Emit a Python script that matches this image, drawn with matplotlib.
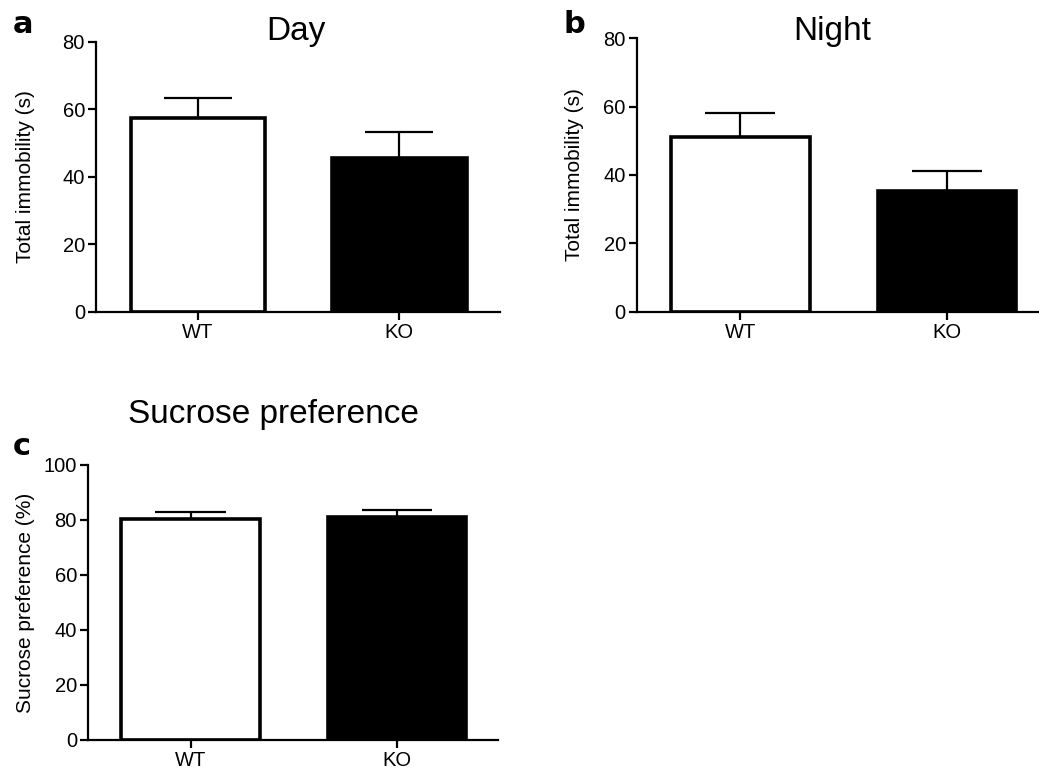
import numpy as np
import matplotlib
matplotlib.use('Agg')
import matplotlib.pyplot as plt

plt.rcParams['font.family'] = ['Liberation Sans', 'DejaVu Sans']

groups = ['WT', 'KO']
bar_colors = ['white', 'black']

day_mean = [57.4, 45.7]
day_sem = [6.1, 7.6]

night_mean = [51.1, 35.2]
night_sem = [7.1, 6.1]

sucrose_mean = [80.3, 81.1]
sucrose_sem = [2.7, 2.5]

fig = plt.figure(figsize=(10.39, 7.76), dpi=100)
fig.set_facecolor('white')


def bar_panel(rect, means, sems, ymax, ylabel, xlim, labelpad):
    ax = fig.add_axes(rect)
    x = np.arange(len(groups))
    ax.bar(x, means, width=0.67, color=bar_colors, edgecolor='black',
           linewidth=2.6, zorder=2)
    tops = np.array(means) + np.array(sems)
    ax.vlines(x, means, tops, color='black', linewidth=1.6, zorder=3)
    ax.hlines(tops, x - 0.17, x + 0.17, color='black', linewidth=1.6, zorder=3)
    ax.set_xlim(*xlim)
    ax.set_ylim(0, ymax)
    ax.set_yticks(np.arange(0, ymax + 1, 20))
    ax.set_xticks(x)
    ax.set_xticklabels(groups)
    ax.spines['top'].set_visible(False)
    ax.spines['right'].set_visible(False)
    for s in ['left', 'bottom']:
        ax.spines[s].set_linewidth(1.6)
        ax.spines[s].set_zorder(4)
    ax.tick_params(axis='both', width=1.6, length=6, labelsize=14.5, pad=2)
    ax.set_ylabel(ylabel, fontsize=15, labelpad=labelpad)
    return ax


bar_panel([0.0924, 0.598, 0.389, 0.348], day_mean, day_sem, 80,
          'Total immobility (s)', (-0.507, 1.502), 20)
bar_panel([0.613, 0.598, 0.398, 0.353], night_mean, night_sem, 80,
          'Total immobility (s)', (-0.50, 1.5), 14)
bar_panel([0.0847, 0.0464, 0.395, 0.3546], sucrose_mean, sucrose_sem, 100,
          'Sucrose preference (%)', (-0.496, 1.49), 6)

W, H = 1039, 776
fig.text(296 / W, 1 - 40 / H, 'Day', fontsize=24, ha='center', va='baseline')
fig.text(832 / W, 1 - 40 / H, 'Night', fontsize=24, ha='center', va='baseline')
fig.text(273 / W, 1 - 423 / H, 'Sucrose preference', fontsize=24,
         ha='center', va='baseline')

fig.text(13 / W, 1 - 33 / H, 'a', fontsize=22, fontweight='black',
         family='DejaVu Sans', va='baseline')
fig.text(563 / W, 1 - 33 / H, 'b', fontsize=22, fontweight='black',
         family='DejaVu Sans', va='baseline')
fig.text(13 / W, 1 - 455 / H, 'c', fontsize=22, fontweight='black',
         family='DejaVu Sans', va='baseline')

fig.savefig('out.png', dpi=100, facecolor='white')
